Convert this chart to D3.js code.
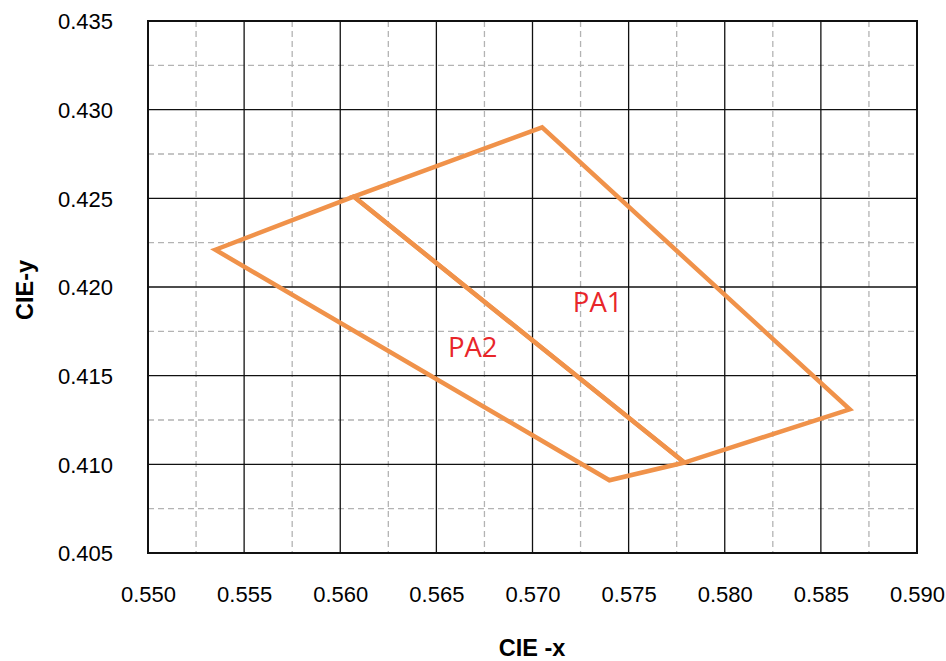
<!DOCTYPE html>
<html><head><meta charset="utf-8">
<script src="https://cdn.jsdelivr.net/npm/d3@7"></script>
<style>body{margin:0;background:#fff}</style>
</head><body>
<svg id="c" width="946" height="661"></svg>
<script>
const xTicks = [0.550,0.555,0.560,0.565,0.570,0.575,0.580,0.585,0.590];
const yTicks = [0.405,0.410,0.415,0.420,0.425,0.430,0.435];
const pa1X = [0.5607,0.5705,0.5865,0.5779];
const pa1Y = [0.4251,0.4290,0.4131,0.4101];
const pa2X = [0.5535,0.5607,0.5779,0.5740];
const pa2Y = [0.4221,0.4251,0.4101,0.4091];
const labels = [{t:"PA1",x:0.5721,y:0.4186},{t:"PA2",x:0.5656,y:0.41605}];

const svg = d3.select("#c");
const L=148,R=917,T=21,B=553;
const x = d3.scaleLinear().domain([0.550,0.590]).range([L,R]);
const y = d3.scaleLinear().domain([0.405,0.435]).range([B,T]);

// minor dashed grid
const minorX = d3.range(0,16).map(i=>0.5525+i*0.005).filter(v=>v<0.590);
const minorY = d3.range(0,6).map(i=>0.4075+i*0.005);
const g = svg.append("g");
g.selectAll(".mx").data(minorX).join("line")
 .attr("x1",d=>x(d)).attr("x2",d=>x(d)).attr("y1",T).attr("y2",B)
 .attr("stroke","#b3b3b3").attr("stroke-width",1.3).attr("stroke-dasharray","6,4");
g.selectAll(".my").data(minorY).join("line")
 .attr("y1",d=>y(d)).attr("y2",d=>y(d)).attr("x1",L).attr("x2",R)
 .attr("stroke","#b3b3b3").attr("stroke-width",1.3).attr("stroke-dasharray","6,4");
// major grid
g.selectAll(".Mx").data(xTicks).join("line")
 .attr("x1",d=>x(d)).attr("x2",d=>x(d)).attr("y1",T).attr("y2",B)
 .attr("stroke","#111").attr("stroke-width",1.3);
g.selectAll(".My").data(yTicks).join("line")
 .attr("y1",d=>y(d)).attr("y2",d=>y(d)).attr("x1",L).attr("x2",R)
 .attr("stroke","#111").attr("stroke-width",1.3);
svg.append("rect").attr("x",L).attr("y",T).attr("width",R-L).attr("height",B-T)
 .attr("fill","none").attr("stroke","#111").attr("stroke-width",2);

// axes labels
const xAxis = d3.axisBottom(x).tickValues(xTicks).tickFormat(d3.format(".3f")).tickSize(0).tickPadding(0);
const ax = svg.append("g").attr("transform",`translate(0,${B})`).call(xAxis);
ax.select(".domain").remove();
ax.selectAll("text").attr("dy",null).attr("y",49).attr("font-family","Liberation Sans, Arial, sans-serif").attr("font-size",22).attr("fill","#000");
const yAxis = d3.axisLeft(y).tickValues(yTicks).tickFormat(d3.format(".3f")).tickSize(0).tickPadding(0);
const ay = svg.append("g").attr("transform",`translate(${L},0)`).call(yAxis);
ay.select(".domain").remove();
ay.selectAll("text").attr("x",-35).attr("dy","0.35em").attr("font-family","Liberation Sans, Arial, sans-serif").attr("font-size",22).attr("fill","#000");

// polygons
const line = d3.line().x(d=>x(d[0])).y(d=>y(d[1])).curve(d3.curveLinearClosed);
[[pa1X,pa1Y],[pa2X,pa2Y]].forEach(([xs,ys])=>{
  svg.append("path").datum(xs.map((v,i)=>[v,ys[i]])).attr("d",line)
   .attr("fill","none").attr("stroke","#F0924A").attr("stroke-width",4.5).attr("stroke-linejoin","miter");
});
svg.selectAll(".lab").data(labels).join("text")
 .attr("x",d=>x(d.x)).attr("y",d=>y(d.y)).text(d=>d.t)
 .attr("font-family","Open Sans, sans-serif").attr("font-size",27.5).attr("fill","#E8262A");

svg.append("text").attr("x",532).attr("y",656).attr("text-anchor","middle")
 .attr("font-family","Liberation Sans, Arial, sans-serif").attr("font-weight","bold").attr("font-size",23.5).text("CIE -x");
svg.append("text").attr("transform","translate(33,290) rotate(-90)").attr("text-anchor","middle")
 .attr("font-family","Liberation Sans, Arial, sans-serif").attr("font-weight","bold").attr("font-size",23.5).text("CIE-y");
</script>
</body></html>
